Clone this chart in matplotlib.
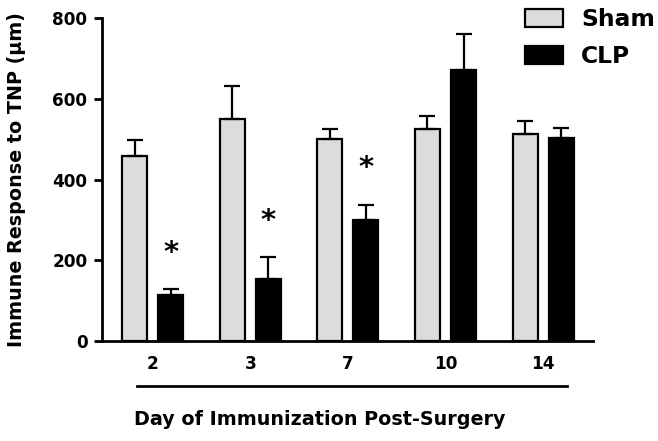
import numpy as np
import matplotlib.pyplot as plt
from matplotlib.lines import Line2D

plt.rcParams['font.family'] = ['DejaVu Sans']
plt.rcParams['font.weight'] = 'bold'

# data
days = ['2', '3', '7', '10', '14']
sham = [458, 550, 500, 525, 512]
sham_err = [41, 82, 25, 32, 32]
clp = [114, 153, 301, 671, 502]
clp_err = [15, 56, 37, 89, 25]
signif = [True, True, True, False, False]

x = np.arange(len(days))
w = 0.256
off = 0.185

fig = plt.figure(figsize=(6.58, 4.41), dpi=100)
ax = fig.add_axes([0.155, 0.2268, 0.746, 0.732])

zeros = [0] * len(days)
ax.bar(x - off, sham, w, color='#dcdcdc', edgecolor='black', linewidth=1.6,
       yerr=[zeros, sham_err], capsize=5.5,
       error_kw=dict(elinewidth=1.6, capthick=1.6), label='Sham', zorder=2)
ax.bar(x + off, clp, w, color='black', edgecolor='black', linewidth=1.6,
       yerr=[zeros, clp_err], capsize=5.5,
       error_kw=dict(elinewidth=1.6, capthick=1.6), label='CLP', zorder=2)

# asterisks over significant CLP bars
for xi, v, e, s in zip(x, clp, clp_err, signif):
    if s:
        ax.annotate('*', xy=(xi + off, v + e), xytext=(0, 26),
                    textcoords='offset points', ha='center', va='center',
                    fontsize=21, fontweight='bold')

ax.set_xlim(-0.52, 4.51)
ax.set_ylim(0, 800)
ax.set_yticks([0, 200, 400, 600, 800])
ax.set_xticks(x)
ax.set_xticklabels(days)
ax.tick_params(axis='x', length=0, labelsize=12.2, pad=10)
ax.tick_params(axis='y', length=5.5, width=2, labelsize=12.2, pad=5)
for t in ax.get_xticklabels() + ax.get_yticklabels():
    t.set_fontweight('bold')

ax.spines['top'].set_visible(False)
ax.spines['right'].set_visible(False)
ax.spines['left'].set_linewidth(2)
ax.spines['bottom'].set_linewidth(2)

ax.set_ylabel('Immune Response to TNP (\u03bcm)', fontsize=13.8, fontweight='bold', labelpad=19)

# line under the day labels and the axis title
fig.add_artist(Line2D([0.208, 0.862], [0.1247, 0.1247], color='black', linewidth=2))
fig.text(0.486, 0.048, 'Day of Immunization Post-Surgery', ha='center', va='center',
         fontsize=13.8, fontweight='bold')

ax.legend(loc='upper right', bbox_to_anchor=(1.017, 1.014), bbox_transform=fig.transFigure,
          frameon=False, handlelength=1.63, handleheight=0.8,
          handletextpad=0.8, labelspacing=0.6, borderaxespad=0.2,
          prop={'weight': 'bold', 'size': 16.8})

fig.savefig('out.png', dpi=100)
